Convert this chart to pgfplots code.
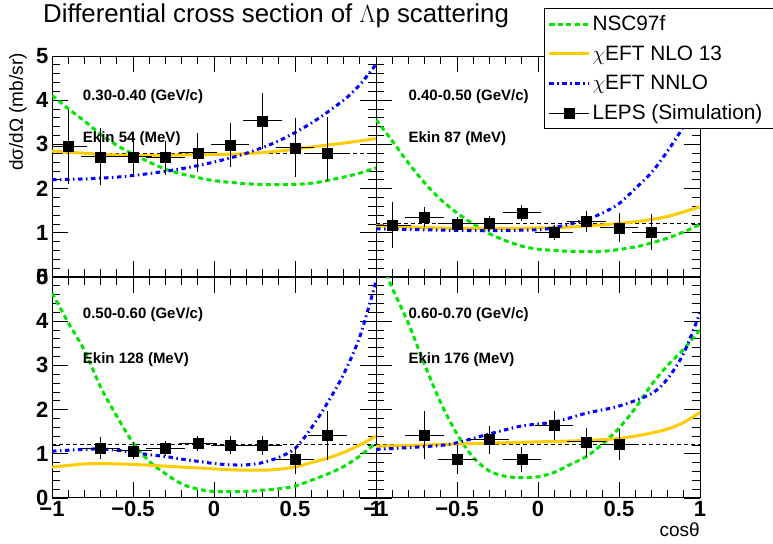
\documentclass[border=0pt]{standalone}
\usepackage{fontspec}
\setmainfont{Liberation Sans}
\usepackage{pgfplots}
\pgfplotsset{compat=1.18}
\definecolor{rgreen}{RGB}{0,230,0}
\definecolor{ryellow}{RGB}{255,204,0}
\definecolor{rblue}{RGB}{0,0,255}
\tikzset{ptxt/.style={anchor=west, inner sep=0pt, font=\bfseries\fontsize{15}{15}\selectfont}}
\pgfplotsset{
  panel/.style={
    scale only axis, width=324pt, height=221pt,
    xmin=-1, xmax=1, ymin=0, ymax=5,
    xtick={-1,-0.5,0,0.5,1}, minor x tick num=4,
    ytick={0,1,2,3,4,5}, minor y tick num=4,
    xticklabels={−1,−0.5,0,0.5,1},
    yticklabels={0,1,2,3,4,5},
    tick align=inside, tick pos=both,
    major tick length=16pt, minor tick length=8pt,
    every tick/.style={black, line width=0.8pt},
    axis line style={black, line width=1pt},
    /pgf/number format/assume math mode=true,
    ticklabel style={font=\bfseries\fontsize{22}{22}\selectfont},
    anchor=south west,
  },
  gcurve/.style={rgreen, line width=3pt, dash pattern=on 5pt off 3.5pt, smooth, no marks},
  ycurve/.style={ryellow, line width=3pt, smooth, no marks},
  bcurve/.style={rblue, line width=3pt, dash pattern=on 4.5pt off 3.5pt on 1.5pt off 3.5pt, smooth, no marks},
  kdash/.style={black, line width=1.1pt, dash pattern=on 4pt off 3pt, no marks},
  pts/.style={black, only marks, mark=square*, mark size=5pt,
    error bars/x dir=both, error bars/x explicit, error bars/y dir=both, error bars/y explicit,
    error bars/error bar style={black, line width=1pt},
    error bars/error mark options={black, line width=1pt, mark size=3pt}},
}
\begin{document}
\begin{tikzpicture}
\useasboundingbox (0pt,0pt) rectangle (773pt,543pt);

% ---------------- top left: 0.30-0.40
\begin{axis}[panel, at={(52pt,266pt)}, xticklabels={}]
\addplot[kdash] coordinates {(-1,2.79) (1,2.79)};
\addplot[gcurve] coordinates {(-1,4.11) (-0.9,3.81) (-0.8,3.53) (-0.7,3.23) (-0.6,2.98) (-0.5,2.78) (-0.4,2.60) (-0.3,2.44) (-0.2,2.33) (-0.1,2.25) (0,2.18) (0.2,2.11) (0.4,2.09) (0.6,2.12) (0.8,2.26) (0.9,2.35) (1,2.47)};
\addplot[ycurve] coordinates {(-1,2.85) (-0.8,2.80) (-0.6,2.76) (-0.4,2.75) (-0.2,2.76) (0,2.77) (0.2,2.79) (0.4,2.85) (0.6,2.94) (0.8,3.03) (1,3.13)};
\addplot[bcurve] coordinates {(-1,2.20) (-0.8,2.22) (-0.6,2.26) (-0.4,2.34) (-0.2,2.45) (0,2.60) (0.2,2.80) (0.4,3.08) (0.6,3.48) (0.8,4.00) (0.9,4.35) (1,4.81)};
\addplot[pts] table[x=x,y=y,x error=ex,y error plus=ep,y error minus=em] {
x y ex ep em
-0.9 2.96 0.1 0.76 0.78
-0.7 2.72 0.1 0.58 0.58
-0.5 2.72 0.1 0.39 0.34
-0.3 2.70 0.1 0.32 0.32
-0.1 2.81 0.1 0.38 0.36
0.1 2.99 0.1 0.42 0.43
0.3 3.53 0.1 0.56 0.57
0.5 2.92 0.1 0.61 0.60
0.7 2.79 0.1 0.76 0.55
};
\node[ptxt] at (axis cs:-0.81,4.09) {0.30-0.40 (GeV/c)};
\node[ptxt] at (axis cs:-0.81,3.13) {Ekin 54 (MeV)};
\end{axis}

% ---------------- top right: 0.40-0.50
\begin{axis}[panel, at={(376pt,266pt)}, xticklabels={}, yticklabels={},
  legend style={at={(0.5185,1.218)}, anchor=north west, draw=black, line width=1pt,
    fill=white, font=\fontsize{20.8}{20.8}\selectfont, row sep=9.5pt,
    inner xsep=3pt, inner ysep=5.5pt, legend cell align=left},
  legend image code/.code={\draw[mark repeat=2,mark phase=2,#1] plot coordinates {(0pt,0pt) (20pt,0pt) (40pt,0pt)};}]
\addplot[kdash, forget plot] coordinates {(-1,1.21) (1,1.21)};
\addplot[gcurve] coordinates {(-1,3.56) (-0.9,3.08) (-0.8,2.58) (-0.7,2.13) (-0.6,1.75) (-0.5,1.45) (-0.4,1.20) (-0.3,0.98) (-0.2,0.82) (-0.1,0.70) (0,0.63) (0.2,0.58) (0.4,0.58) (0.6,0.68) (0.7,0.77) (0.8,0.88) (0.9,1.02) (1,1.19)};
\addplot[ycurve] coordinates {(-1,1.16) (-0.6,1.11) (-0.2,1.10) (0,1.11) (0.2,1.13) (0.4,1.18) (0.6,1.25) (0.8,1.37) (1,1.59)};
\addplot[bcurve] coordinates {(-1,1.09) (-0.6,1.06) (-0.3,1.05) (0,1.07) (0.1,1.12) (0.2,1.20) (0.3,1.30) (0.4,1.45) (0.5,1.66) (0.6,2.00) (0.7,2.36) (0.8,2.85) (0.9,3.42) (1,4.15)};
\addplot[legend image code/.code={\draw[black,line width=1pt] (0pt,0pt)--(40pt,0pt); \fill[black] (15pt,-5pt) rectangle (25pt,5pt);}, pts]
 table[x=x,y=y,x error=ex,y error plus=ep,y error minus=em] {
x y ex ep em
-0.9 1.17 0.1 0.47 0.45
-0.7 1.35 0.1 0.17 0.16
-0.5 1.20 0.1 0.10 0.10
-0.3 1.21 0.1 0.11 0.11
-0.1 1.45 0.1 0.11 0.11
0.1 1.01 0.1 0.10 0.10
0.3 1.26 0.1 0.17 0.17
0.5 1.11 0.1 0.26 0.26
0.7 1.01 0.1 0.34 0.34
};
\legend{NSC97f, $\chi$EFT NLO 13, $\chi$EFT NNLO, LEPS (Simulation)\hspace*{10pt}}
\node[ptxt] at (axis cs:-0.80,4.09) {0.40-0.50 (GeV/c)};
\node[ptxt] at (axis cs:-0.80,3.13) {Ekin 87 (MeV)};
\end{axis}

% ---------------- bottom left: 0.50-0.60
\begin{axis}[panel, at={(52pt,45pt)}]
\addplot[kdash] coordinates {(-1,1.21) (1,1.21)};
\addplot[gcurve] coordinates {(-1,4.64) (-0.9,3.97) (-0.8,3.34) (-0.7,2.51) (-0.6,1.85) (-0.5,1.25) (-0.4,0.83) (-0.3,0.55) (-0.2,0.32) (-0.1,0.20) (0,0.15) (0.2,0.15) (0.4,0.21) (0.5,0.27) (0.6,0.40) (0.7,0.54) (0.8,0.71) (0.9,0.95) (1,1.25)};
\addplot[ycurve] coordinates {(-1,0.70) (-0.8,0.77) (-0.7,0.78) (-0.5,0.76) (-0.3,0.72) (-0.1,0.68) (0.1,0.64) (0.2,0.63) (0.3,0.63) (0.4,0.65) (0.5,0.70) (0.6,0.80) (0.7,0.90) (0.8,1.03) (0.9,1.20) (1,1.40)};
\addplot[bcurve] coordinates {(-1,1.06) (-0.8,1.10) (-0.7,1.11) (-0.6,1.08) (-0.5,1.03) (-0.4,0.98) (-0.3,0.94) (-0.2,0.88) (-0.1,0.83) (0,0.78) (0.1,0.75) (0.2,0.75) (0.3,0.80) (0.4,0.92) (0.5,1.12) (0.6,1.58) (0.7,2.15) (0.8,2.80) (0.9,3.65) (1,4.90)};
\addplot[pts] table[x=x,y=y,x error=ex,y error plus=ep,y error minus=em] {
x y ex ep em
-0.7 1.13 0.1 0.19 0.17
-0.5 1.07 0.1 0.13 0.13
-0.3 1.12 0.1 0.11 0.11
-0.1 1.23 0.1 0.11 0.11
0.1 1.19 0.1 0.15 0.13
0.3 1.19 0.1 0.14 0.14
0.5 0.87 0.1 0.23 0.26
0.7 1.41 0.1 0.48 0.48
};
\node[ptxt] at (axis cs:-0.81,4.14) {0.50-0.60 (GeV/c)};
\node[ptxt] at (axis cs:-0.81,3.14) {Ekin 128 (MeV)};
\end{axis}

% ---------------- bottom right: 0.60-0.70
\begin{axis}[panel, at={(376pt,45pt)}, yticklabels={}]
\addplot[kdash] coordinates {(-1,1.21) (1,1.21)};
\addplot[gcurve] coordinates {(-1,5.60) (-0.9,4.75) (-0.8,3.95) (-0.7,3.02) (-0.6,2.15) (-0.5,1.45) (-0.4,0.92) (-0.3,0.61) (-0.2,0.49) (-0.1,0.46) (0,0.48) (0.1,0.58) (0.2,0.76) (0.3,0.94) (0.4,1.23) (0.5,1.58) (0.6,2.03) (0.7,2.56) (0.8,3.00) (0.9,3.37) (1,3.81)};
\addplot[ycurve] coordinates {(-1,1.17) (-0.6,1.21) (-0.2,1.25) (0,1.27) (0.2,1.29) (0.4,1.32) (0.5,1.35) (0.6,1.40) (0.7,1.47) (0.8,1.56) (0.9,1.71) (1,1.94)};
\addplot[bcurve] coordinates {(-1,1.10) (-0.8,1.14) (-0.6,1.19) (-0.5,1.25) (-0.3,1.45) (-0.1,1.63) (0.1,1.72) (0.3,1.92) (0.5,2.08) (0.7,2.36) (0.8,2.70) (0.9,3.28) (1,4.19)};
\addplot[pts] table[x=x,y=y,x error=ex,y error plus=ep,y error minus=em] {
x y ex ep em
-0.7 1.42 0.1 0.47 0.48
-0.5 0.87 0.1 0.25 0.27
-0.3 1.32 0.1 0.23 0.25
-0.1 0.87 0.1 0.21 0.21
0.1 1.65 0.1 0.26 0.27
0.3 1.27 0.1 0.24 0.27
0.5 1.21 0.1 0.29 0.28
};
\node[ptxt] at (axis cs:-0.80,4.14) {0.60-0.70 (GeV/c)};
\node[ptxt] at (axis cs:-0.80,3.14) {Ekin 176 (MeV)};
\end{axis}

% ---------------- titles and axis labels
\node[anchor=west, inner sep=0pt, font=\fontsize{25.8}{25.8}\selectfont] at (43pt,527pt) {Differential cross section of $\Lambda$p scattering};
\node[rotate=90, anchor=east, inner sep=0pt, font=\fontsize{19}{19}\selectfont] at (18pt,490pt) {dσ/dΩ (mb/sr)};
\node[anchor=east, inner sep=0pt, font=\fontsize{19}{19}\selectfont] at (700pt,13pt) {cosθ};
\end{tikzpicture}
\end{document}
